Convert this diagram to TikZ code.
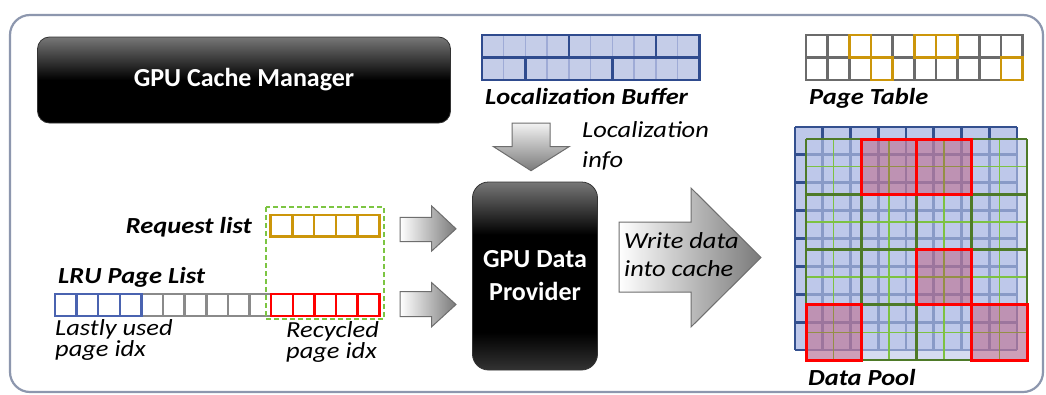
\documentclass[tikz,border=0pt]{standalone}
\usepackage{fontspec}
\setmainfont{Carlito}
\newfontfamily\labfont{Carlito}[FakeStretch=1.15]
\definecolor{framec}{HTML}{8D97AE}
\definecolor{bufill}{HTML}{C5CDE8}
\definecolor{buthin}{HTML}{9FABD6}
\definecolor{navy}{HTML}{2F4B8E}
\definecolor{ptgray}{HTML}{6B6B6B}
\definecolor{gold}{HTML}{CC960A}
\definecolor{lrublue}{HTML}{4A63B0}
\definecolor{lrugray}{HTML}{8A8A8A}
\definecolor{lrured}{HTML}{FF0000}
\definecolor{dashgreen}{HTML}{7CC542}
\definecolor{poolfill}{HTML}{BEC8EA}
\definecolor{poolline}{HTML}{34508F}
\definecolor{gthin}{HTML}{7DC242}
\definecolor{gthick}{HTML}{4E7A28}
\definecolor{redfill}{HTML}{C0304F}
\definecolor{graytop}{HTML}{777777}
\definecolor{arrowedge}{HTML}{6E6E6E}
\definecolor{arrowdark}{HTML}{7A7A7A}
\pgfdeclareverticalshading{gcmshade}{100bp}{color(0bp)=(black); color(50bp)=(black); color(75bp)=(graytop); color(100bp)=(graytop)}
\pgfdeclareverticalshading{gdpshade}{100bp}{color(0bp)=(black!80); color(25bp)=(black!80); color(35bp)=(black); color(61bp)=(black); color(75bp)=(graytop); color(100bp)=(graytop)}
\begin{document}
\begin{tikzpicture}[x=1pt,y=-1pt,
  frame/.style={draw=framec, line width=2.2pt, rounded corners=20pt},
  blackbox/.style={draw=black!80, line width=0.8pt, text=white, font=\bfseries\fontsize{26}{33}\selectfont, align=center, inner sep=0pt},
  lab/.style={inner sep=0pt, font=\labfont\itshape\fontsize{23}{20}\selectfont},
  labb/.style={inner sep=0pt, font=\labfont\bfseries\itshape\fontsize{23}{25}\selectfont},
  blockarrow/.style={draw=arrowedge, line width=1pt, line join=miter},
  thinbuf/.style={draw=buthin, line width=1.5pt},
  thickbuf/.style={draw=navy, line width=2.5pt},
  ptcell/.style={draw=ptgray, line width=2.6pt},
  goldcell/.style={draw=gold, line width=2.6pt},
  listcell/.style={line width=2.5pt},
  poolgrid/.style={draw=poolline, line width=2.8pt},
  greenthin/.style={draw=gthin, line width=1.5pt},
  greenthick/.style={draw=gthick, line width=2.6pt},
  redblock/.style={draw=lrured, line width=3pt}
]
\useasboundingbox (0,0) rectangle (1046,394);
\fill[white] (0,0) rectangle (1046,394);
\draw[frame] (10,15) rectangle (1043,392);

% GPU Cache Manager
\node[blackbox, shading=gcmshade, rounded corners=12pt, minimum width=413pt, minimum height=86pt] (gcm) at (244,80) {GPU Cache Manager};

% Localization buffer
\fill[bufill] (482,35) rectangle (699.3,80);
\foreach \i in {1,...,9} \draw[thinbuf] ({482+\i*21.73},35) -- ({482+\i*21.73},80);
\draw[thickbuf] (482,57.5) -- (699.3,57.5);
\foreach \i in {4,8} \draw[thickbuf] ({482+\i*21.73},35) -- ({482+\i*21.73},57.5);
\foreach \i in {2,6} \draw[thickbuf] ({482+\i*21.73},57.5) -- ({482+\i*21.73},80);
\draw[thickbuf] (482,35) rectangle (699.3,80);
\node[labb, anchor=base west] (lbuftxt) at (485,104) {Localization Buffer};

% Page table
\foreach \i in {0,...,9} \foreach \j in {0,1}
  \draw[ptcell] ({806+\i*21.67},{35+\j*22.5}) rectangle ++(21.67,22.5);
\foreach \i/\j in {2/0,5/0,6/0,3/1,9/1}
  \draw[goldcell] ({806+\i*21.67},{35+\j*22.5}) rectangle ++(21.67,22.5);
\node[labb, anchor=base west] (pttxt) at (809,104) {Page Table};

% Down arrow + label
\draw[blockarrow, top color=white!90!gray, bottom color=arrowdark] (512,123) -- (550,123) -- (550,146.5) -- (569.3,146.5) -- (531,170.7) -- (493.3,146.5) -- (512,146.5) -- cycle;
\node[lab, font=\labfont\itshape\fontsize{23}{30}\selectfont, anchor=base west] (linfo) at (582,137) {\begin{tabular}[t]{@{}l@{}}Localization\\info\end{tabular}};

% GPU Data Provider
\node[blackbox, shading=gdpshade, rounded corners=16pt, minimum width=125pt, minimum height=188pt] (gdp) at (535,276) {GPU Data\\Provider};

% Request list and LRU list
\node[labb, anchor=base east] (reqtxt) at (252,233) {Request list};
\foreach \i in {0,...,4} \draw[listcell, gold] ({270.7+\i*21.72},215) rectangle ++(21.72,21.7);
\node[labb, anchor=base west] (lrutxt) at (58,283) {LRU Page List};
\foreach \i in {0,...,14} \draw[listcell, lrugray] ({55+\i*21.62},294) rectangle ++(21.62,22);
\foreach \i in {0,...,3} \draw[listcell, lrublue] ({55+\i*21.62},294) rectangle ++(21.62,22);
\foreach \i in {10,...,14} \draw[listcell, lrured] ({55+\i*21.62},294) rectangle ++(21.62,22);
\draw[dashgreen, line width=2pt, dash pattern=on 5pt off 3pt] (265.7,207.3) rectangle (384,319);
\node[lab, anchor=base west] (lastly) at (55,335) {\begin{tabular}[t]{@{}l@{}}Lastly used\\page idx\end{tabular}};
\node[lab, anchor=base west] (recyc) at (286,337) {\begin{tabular}[t]{@{}l@{}}Recycled\\page idx\end{tabular}};

% small arrows
\draw[blockarrow, left color=white, right color=arrowdark] (400,217.3) -- (431.7,217.3) -- (431.7,206) -- (456,228.8) -- (431.7,251) -- (431.7,241.7) -- (400,241.7) -- cycle;
\draw[blockarrow, left color=white, right color=arrowdark] (400,291.7) -- (431.7,291.7) -- (431.7,282.7) -- (456,304.5) -- (431.7,326.7) -- (431.7,316.7) -- (400,316.7) -- cycle;

% big arrow
\draw[blockarrow, left color=white, right color=arrowdark] (619,222) -- (691,222) -- (691,188) -- (761,257.5) -- (691,327) -- (691,292) -- (619,292) -- cycle;
\node[lab, font=\labfont\itshape\fontsize{23}{28}\selectfont, anchor=base west] (wdata) at (624,248) {\begin{tabular}[t]{@{}l@{}}Write data\\into cache\end{tabular}};

% Data pool - back layer
\fill[poolfill] (795,127) rectangle (1017,350);
\foreach \i in {0,...,8} \draw[poolgrid] ({795+\i*27.75},127) -- ++(0,223);
\foreach \j in {0,...,8} \draw[poolgrid] (795,{127+\j*27.875}) -- ++(222,0);
% front layer
\fill[poolfill, fill opacity=0.62] (806,139) rectangle (1027,360);
\foreach \i in {1,3,5,7} \draw[greenthin] ({806+\i*27.625},139) -- ++(0,221);
\foreach \j in {1,3,5,7} \draw[greenthin] (806,{139+\j*27.625}) -- ++(221,0);
\foreach \c/\r in {1/0,2/0,2/2,0/3,3/3}
  \fill[redfill, fill opacity=0.35] ({806+\c*55.25},{139+\r*55.25}) rectangle ++(55.25,55.25);
\foreach \i in {0,...,4} \draw[greenthick] ({806+\i*55.25},139) -- ++(0,221);
\foreach \j in {0,...,4} \draw[greenthick] (806,{139+\j*55.25}) -- ++(221,0);
\foreach \c/\r in {1/0,2/0,2/2,0/3,3/3}
  \draw[redblock] ({806+\c*55.25},{139+\r*55.25}) rectangle ++(55.25,55.25);
\node[labb, anchor=base west] (dptxt) at (808,385) {Data Pool};
\end{tikzpicture}
\end{document}
